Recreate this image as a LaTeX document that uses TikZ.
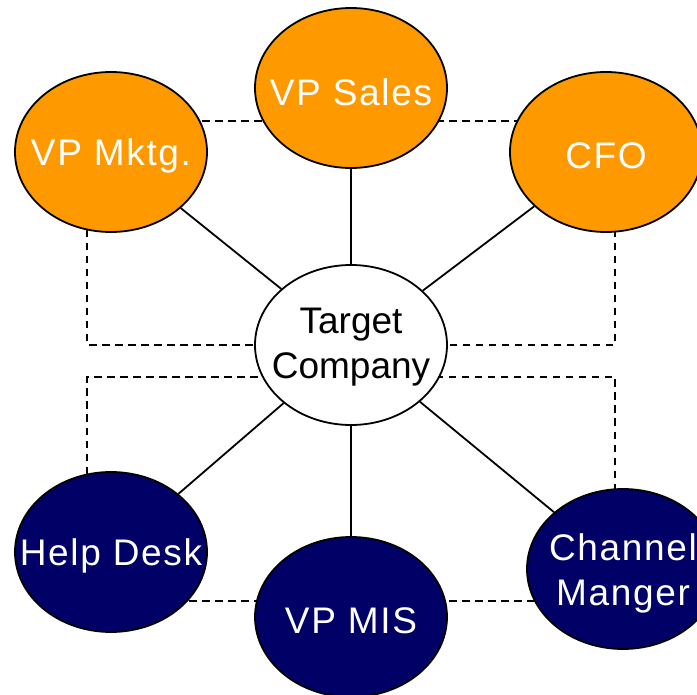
\documentclass[tikz,border=0pt]{standalone}
\usepackage{fontspec}
\setmainfont{Liberation Sans}
\usetikzlibrary{shapes.geometric,backgrounds}
\definecolor{exec}{HTML}{FF9900}
\definecolor{tech}{HTML}{000066}
\tikzset{
  oval/.style={ellipse, draw=black, line width=1.8pt, minimum width=192pt,
    minimum height=160pt, inner sep=0pt},
  execoval/.style={oval, fill=exec},
  techoval/.style={oval, fill=tech},
  hubowl/.style={oval, fill=white},
  lighttext/.style={text=white, align=center, inner sep=0pt, yshift=-4pt,
    font=\fontsize{37}{45}\selectfont\addfontfeature{LetterSpace=4.5}},
  darktext/.style={text=black, align=center, inner sep=0pt, yshift=-2pt,
    font=\fontsize{37}{45}\selectfont},
  link/.style={draw=black, line width=1.8pt},
  peer/.style={draw=black, line width=1.8pt, dash pattern=on 7.5pt off 5.5pt}
}
\begin{document}
\begin{tikzpicture}[x=1pt,y=-1pt]
  \useasboundingbox (0,0) rectangle (697,695);
  \clip (0,0) rectangle (697,695);

  % reference levels for the dashed peer lines
  \coordinate (topline) at (0,121);
  \coordinate (botline) at (0,601);
  \coordinate (leftline) at (87,0);
  \coordinate (rightline) at (615,0);

  % people
  \node[hubowl, label={[darktext]center:Target\\Company}] (target) at (351,345) {};
  \node[execoval, label={[lighttext]center:VP Mktg.}] (mktg) at (111,152) {};
  \node[execoval, label={[lighttext]center:VP Sales}] (sales) at (351,88) {};
  \node[execoval, label={[lighttext]center:CFO}] (cfo) at (606,152) {};
  \node[techoval, label={[lighttext]center:Help Desk}] (help) at (111,552) {};
  \node[techoval, label={[lighttext]center:VP MIS}] (mis) at (351,617) {};
  \node[techoval, label={[lighttext]center:Channel\\Manger}] (chan) at (623,569) {};

  \begin{scope}[on background layer]
    % reporting lines to the hub
    \draw[link] (target) -- (mktg);
    \draw[link] (target) -- (sales);
    \draw[link] (target) -- (cfo);
    \draw[link] (target) -- (help);
    \draw[link] (target) -- (mis);
    \draw[link] (target) -- (chan);

    % peer connections
    \draw[peer] (mktg.center |- topline) -- (cfo.center |- topline);
    \draw[peer] (help.center |- botline) -- (chan.center |- botline);
    \draw[peer] (mktg.center -| leftline) |- (target.center);
    \draw[peer] (cfo.center -| rightline) |- (target.center);
    \draw[peer] (help.center -| leftline) |- ([yshift=-32pt]target.center);
    \draw[peer] (chan.center -| rightline) |- ([yshift=-32pt]target.center);
  \end{scope}
\end{tikzpicture}
\end{document}
